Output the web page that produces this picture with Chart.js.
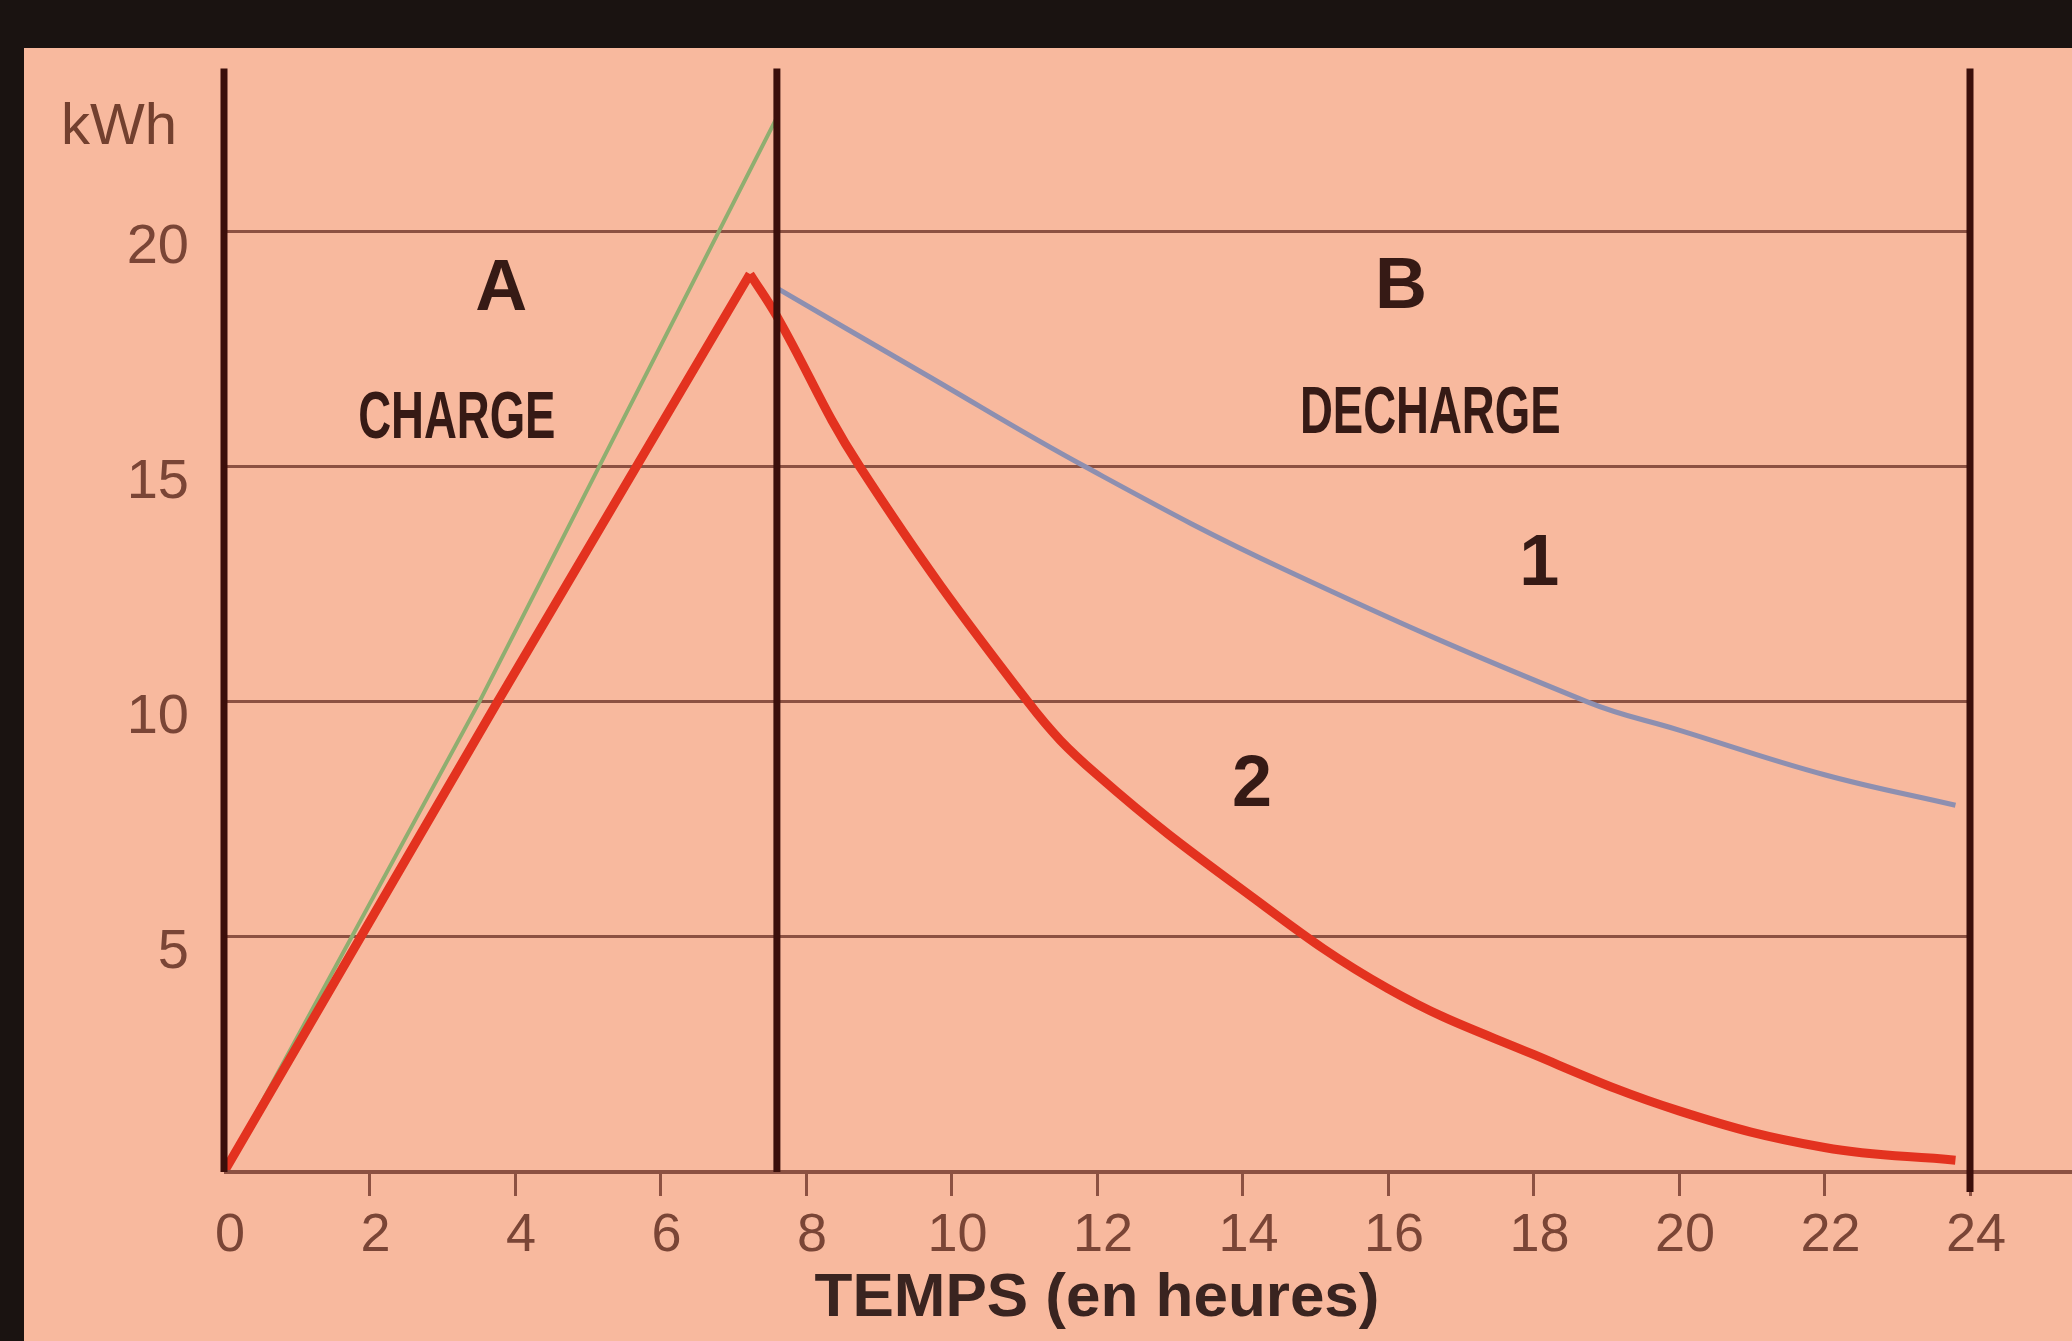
<!DOCTYPE html>
<html>
<head>
<meta charset="utf-8">
<script src="https://cdn.jsdelivr.net/npm/chart.js@4.4.1/dist/chart.umd.min.js"></script>
<style>
  html, body { margin: 0; padding: 0; background: #f8b99e; }
  #cadre { position: relative; width: 2072px; height: 1341px; overflow: hidden; background: #f8b99e; }
  #bandeHaut { position: absolute; left: 0; top: 0; width: 2072px; height: 48px; background: #1a1311; }
  #bandeGauche { position: absolute; left: 0; top: 0; width: 24px; height: 1341px; background: #1a1311; }
  #graphe { position: absolute; left: 0; top: 0; }
</style>
</head>
<body>
<div id="cadre">
  <canvas id="graphe" width="2072" height="1341"></canvas>
  <div id="bandeHaut"></div>
  <div id="bandeGauche"></div>
</div>
<script>
// --- données (heures / kWh) ---
const xTickValues = [0, 2, 4, 6, 8, 10, 12, 14, 16, 18, 20, 22, 24];
const yTickValues = [5, 10, 15, 20];

// séparations verticales : origine, fin de charge, 24 h
const separations = [0, 7.6, 24];

// droite verte (charge théorique)
const heuresVert = [0, 3.51, 7.59];
const kwhVert = [0, 10, 22.4];

// courbe 2 (rouge) : charge puis décharge
const heuresCharge2 = [0, 3.76, 7.23];
const kwhCharge2 = [0, 10, 19.1];
const heuresDecharge2 = [7.23, 7.6, 8.74, 11.05, 12, 14, 16, 18, 20, 22, 23.8];
const kwhDecharge2 = [19.1, 18.2, 15, 10, 8.45, 6.0, 3.9, 2.5, 1.3, 0.52, 0.25];

// courbe 1 (bleue) : décharge lente
const heuresDecharge1 = [7.6, 9.6, 11.84, 14.6, 18.74, 20, 22, 23.8];
const kwhDecharge1 = [18.8, 17.0, 15, 12.8, 10, 9.4, 8.45, 7.8];

function points(xs, ys) {
    return xs.map((h, i) => ({ x: h, y: ys[i] }));
}

// textes posés en coordonnées du graphique
const annotations = [
    { text: 'A', x: 3.81, y: 18.75, size: 72, bold: true },
    { text: 'B', x: 16.18, y: 18.8, size: 72, bold: true },
    { text: 'CHARGE', x: 3.2, y: 16.0, size: 66, bold: true, squeeze: 0.69 },
    { text: 'DECHARGE', x: 16.58, y: 16.1, size: 66, bold: true, squeeze: 0.69 },
    { text: '1', x: 18.08, y: 12.9, size: 72, bold: true },
    { text: '2', x: 14.13, y: 8.2, size: 72, bold: true }
];

const FONT = '"Liberation Sans", Arial, Helvetica, sans-serif';
const brun = '#7a4536';
const grille = '#8c5142';

const decor = {
    id: 'decor',
    afterDatasetsDraw(chart) {
        const { ctx, chartArea, scales: { x, y } } = chart;
        ctx.save();

        // axe des temps prolongé jusqu'au bord droit
        ctx.strokeStyle = grille;
        ctx.lineWidth = 4;
        ctx.beginPath();
        ctx.moveTo(chartArea.left, chartArea.bottom);
        ctx.lineTo(chart.width, chartArea.bottom);
        ctx.stroke();

        // traits verticaux épais
        ctx.strokeStyle = '#3b0f0b';
        ctx.lineWidth = 7;
        separations.forEach(h => {
            const px = x.getPixelForValue(h);
            const bas = h === 24 ? chartArea.bottom + 20 : chartArea.bottom;
            ctx.beginPath();
            ctx.moveTo(px, chartArea.top);
            ctx.lineTo(px, bas);
            ctx.stroke();
        });

        // unité
        ctx.fillStyle = '#73402f';
        ctx.font = '58px ' + FONT;
        ctx.textAlign = 'center';
        ctx.textBaseline = 'middle';
        ctx.fillText('kWh', chartArea.left - 105, y.getPixelForValue(22.2));

        // lettres et repères
        ctx.fillStyle = '#361a15';
        annotations.forEach(a => {
            ctx.save();
            ctx.font = (a.bold ? 'bold ' : '') + a.size + 'px ' + FONT;
            ctx.translate(x.getPixelForValue(a.x), y.getPixelForValue(a.y));
            if (a.squeeze) ctx.scale(a.squeeze, 1);
            ctx.fillText(a.text, 0, 0);
            ctx.restore();
        });

        ctx.restore();
    }
};

new Chart(document.getElementById('graphe'), {
    type: 'line',
    data: {
        datasets: [
            {
                label: 'Décharge 2',
                data: points(heuresDecharge2, kwhDecharge2),
                borderColor: '#e3321f',
                borderWidth: 9,
                tension: 0.4,
                pointRadius: 0
            },
            {
                label: 'Charge 2',
                data: points(heuresCharge2, kwhCharge2),
                borderColor: '#e3321f',
                borderWidth: 9,
                tension: 0,
                pointRadius: 0,
                borderJoinStyle: 'round'
            },
            {
                label: 'Charge',
                data: points(heuresVert, kwhVert),
                borderColor: '#8fae70',
                borderWidth: 4,
                tension: 0,
                pointRadius: 0
            },
            {
                label: 'Décharge 1',
                data: points(heuresDecharge1, kwhDecharge1),
                borderColor: '#8d8fb0',
                borderWidth: 5,
                tension: 0.4,
                pointRadius: 0
            }
        ]
    },
    options: {
        responsive: false,
        animation: false,
        devicePixelRatio: 1,
        layout: {
            padding: { left: 0, top: 50, right: 102, bottom: 0 }
        },
        plugins: {
            legend: { display: false },
            tooltip: { enabled: false }
        },
        scales: {
            x: {
                type: 'linear',
                min: 0,
                max: 24,
                afterBuildTicks: s => { s.ticks = xTickValues.map(v => ({ value: v })); },
                afterFit: s => { s.height = 169; },
                border: { display: false },
                grid: {
                    drawOnChartArea: false,
                    drawTicks: true,
                    tickLength: 24,
                    tickWidth: 3,
                    tickColor: c => (c.tick && c.tick.value === 0) ? 'rgba(0,0,0,0)' : grille
                },
                ticks: {
                    color: brun,
                    font: { family: FONT, size: 54 },
                    padding: 8,
                    labelOffset: 6,
                    maxRotation: 0,
                    autoSkip: false
                },
                title: {
                    display: true,
                    text: 'TEMPS (en heures)',
                    color: '#3a2420',
                    font: { family: FONT, size: 62, weight: 'bold' },
                    padding: { top: 0, bottom: 5 }
                }
            },
            y: {
                type: 'linear',
                min: 0,
                max: 23.47,
                afterBuildTicks: s => { s.ticks = yTickValues.map(v => ({ value: v })); },
                afterFit: s => { s.width = 224; },
                border: { display: false },
                grid: {
                    color: grille,
                    lineWidth: 3,
                    drawTicks: false
                },
                ticks: {
                    color: brun,
                    font: { family: FONT, size: 56 },
                    padding: 35,
                    labelOffset: 16
                }
            }
        }
    },
    plugins: [decor]
});
</script>
</body>
</html>
